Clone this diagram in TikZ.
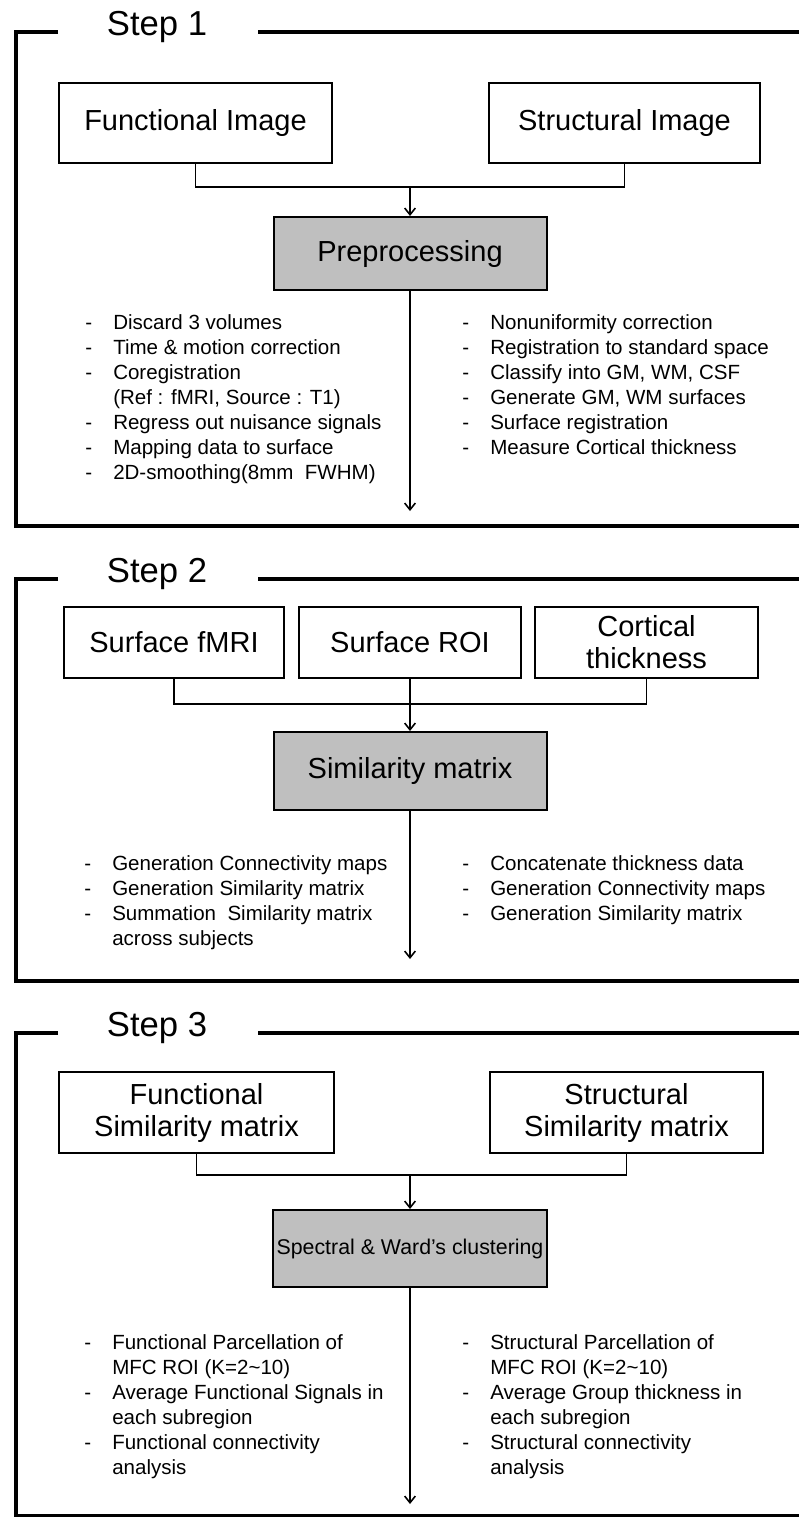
\documentclass[tikz,border=0pt]{standalone}
\usepackage{fontspec}
\setmainfont{Liberation Sans}
\usetikzlibrary{arrows.meta}
\begin{document}
\begin{tikzpicture}[x=0.75pt,y=-0.75pt,
  frameline/.style={line width=3pt},
  steplbl/.style={anchor=base,inner sep=0pt,font=\fontsize{26pt}{30pt}\selectfont},
  wbox/.style={draw,line width=1.5pt,fill=white,inner sep=0pt,align=center,
    font=\fontsize{21.75pt}{24pt}\selectfont},
  gbox/.style={wbox,fill=gray!50!white},
  conn/.style={line width=1.2pt},
  arr/.style={conn,-{Straight Barb[length=5pt,width=8pt,line width=1.2pt]}},
  lst/.style={anchor=north west,inner sep=0pt,align=left,
    font=\fontsize{15.4pt}{18.75pt}\selectfont}]
\newcommand{\dsh}{\makebox[21pt][l]{-}}
\newcommand{\ind}{\hspace*{21pt}}
\useasboundingbox (0,0) rectangle (799,1517);

% ---------------- Step 1 ----------------
\draw[frameline] (58,32) -- (16,32) -- (16,526) -- (805,526);
\draw[frameline] (258,32) -- (805,32);
\node[steplbl] (s1) at (157,35) {Step 1};

\node[wbox,minimum width=204.75pt,minimum height=60pt] (func1) at (195.5,123) {Functional Image};
\node[wbox,minimum width=203.25pt,minimum height=60pt] (struct1) at (624.5,123) {Structural Image};
\node[gbox,minimum width=204.75pt,minimum height=54.75pt] (prep) at (410,253.5) {Preprocessing};
\coordinate (m1) at (410,187);
\coordinate (e1) at (410,511);
\draw[conn] (func1.south) |- (m1) -| (struct1.south);
\draw[arr] (m1) -- (prep.north);
\draw[arr] (prep.south) -- (e1);

\node[lst] (l1) at (85,314) {\dsh Discard 3 volumes\\
\dsh Time \& motion correction\\
\dsh Coregistration\\
\ind (Ref : fMRI, Source : T1)\\
\dsh Regress out nuisance signals\\
\dsh Mapping data to surface\\
\dsh 2D-smoothing(8mm\ \ FWHM)};
\node[lst] (r1) at (462,314) {\dsh Nonuniformity correction\\
\dsh Registration to standard space\\
\dsh Classify into GM, WM, CSF\\
\dsh Generate GM, WM surfaces\\
\dsh Surface registration\\
\dsh Measure Cortical thickness};

% ---------------- Step 2 ----------------
\draw[frameline] (58,579) -- (16,579) -- (16,981) -- (805,981);
\draw[frameline] (258,579) -- (805,579);
\node[steplbl] (s2) at (157,582) {Step 2};

\node[wbox,minimum width=165pt,minimum height=53.25pt] (sfmri) at (174,642.5) {Surface fMRI};
\node[wbox,minimum width=166.5pt,minimum height=53.25pt] (sroi) at (410,642.5) {Surface ROI};
\node[wbox,minimum width=167.25pt,minimum height=53.25pt] (cort) at (646.5,642.5) {Cortical\\thickness};
\node[gbox,minimum width=204.75pt,minimum height=58.5pt] (sim) at (410,771) {Similarity matrix};
\coordinate (m2) at (410,704);
\coordinate (e2) at (410,959);
\draw[conn] (sfmri.south) |- (m2) -| (cort.south);
\draw[arr] (sroi.south) -- (sim.north);
\draw[arr] (sim.south) -- (e2);

\node[lst] (l2) at (84,855) {\dsh Generation Connectivity maps\\
\dsh Generation Similarity matrix\\
\dsh Summation\ \ Similarity matrix\\
\ind across subjects};
\node[lst] (r2) at (462,855) {\dsh Concatenate thickness data\\
\dsh Generation Connectivity maps\\
\dsh Generation Similarity matrix};

% ---------------- Step 3 ----------------
\draw[frameline] (58,1033) -- (16,1033) -- (16,1516) -- (805,1516);
\draw[frameline] (258,1033) -- (805,1033);
\node[steplbl] (s3) at (157,1036) {Step 3};

\node[wbox,minimum width=206.25pt,minimum height=60.75pt] (fsim) at (196.5,1112.5) {Functional\\Similarity matrix};
\node[wbox,minimum width=204.75pt,minimum height=60.75pt] (ssim) at (626.5,1112.5) {Structural\\Similarity matrix};
\node[gbox,minimum width=205.5pt,minimum height=57.75pt,font=\fontsize{16pt}{19pt}\selectfont] (spec) at (410,1248.5) {Spectral \& Ward’s clustering};
\coordinate (m3) at (410,1175);
\coordinate (e3) at (410,1504);
\draw[conn] (fsim.south) |- (m3) -| (ssim.south);
\draw[arr] (m3) -- (spec.north);
\draw[arr] (spec.south) -- (e3);

\node[lst] (l3) at (84,1334) {\dsh Functional Parcellation of\\
\ind MFC ROI (K=2\textasciitilde10)\\
\dsh Average Functional Signals in\\
\ind each subregion\\
\dsh Functional connectivity\\
\ind analysis};
\node[lst] (r3) at (462,1334) {\dsh Structural Parcellation of\\
\ind MFC ROI (K=2\textasciitilde10)\\
\dsh Average Group thickness in\\
\ind each subregion\\
\dsh Structural connectivity\\
\ind analysis};
\end{tikzpicture}
\end{document}
